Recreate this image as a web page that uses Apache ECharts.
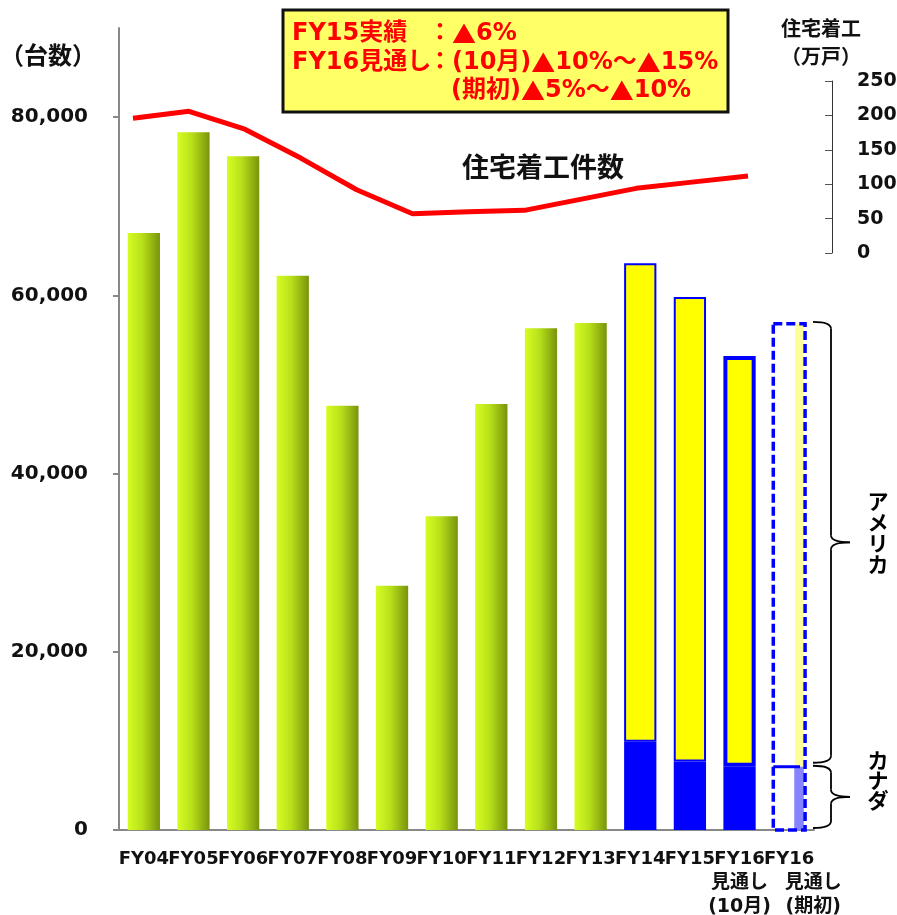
<!DOCTYPE html>
<html><head><meta charset="utf-8">
<script src="https://cdn.jsdelivr.net/npm/echarts@6/dist/echarts.min.js"></script>
<style>html,body{margin:0;padding:0;background:#fff}#c{width:897px;height:915px}</style>
</head><body><div id="c"></div>
<script>
// ---- data ----
const categories = ['FY04','FY05','FY06','FY07','FY08','FY09','FY10','FY11','FY12','FY13','FY14','FY15','FY16\n見通し\n(10月)','FY16\n見通し\n(期初)'];
const totalUnits   = [67000, 78300, 75600, 62200, 47600, 27400, 35200, 47800, 56300, 56900, null, null, null, null];
const canadaUnits  = [null, null, null, null, null, null, null, null, null, null, 9900, 7700, 7100, null];
const usaUnits     = [null, null, null, null, null, null, null, null, null, null, 53700, 52100, 46100, null];
const initialForecast = { index: 13, canada: 7100, usa: 49700 };
const startsYears  = ['FY04','FY05','FY06','FY07','FY08','FY09','FY10','FY11','FY12','FY13','FY14','FY15'];
const housingStarts = [196, 206, 180, 138, 92, 57, 60, 62, 78, 94, 103, 112];
const leftTicks  = [0, 20000, 40000, 60000, 80000];

const FONT = '"DejaVu Sans", "Noto Sans CJK JP", sans-serif';
const CJK = '"Noto Sans CJK JP", "DejaVu Sans", sans-serif';

const chart = echarts.init(document.getElementById('c'), null, {renderer: 'canvas'});

const greenGrad = new echarts.graphic.LinearGradient(0, 0, 1, 0, [
  {offset: 0, color: '#d6fd22'}, {offset: 0.45, color: '#b8e01a'}, {offset: 1, color: '#78940c'}
]);

function styled(arr, fn) { return arr.map((v, i) => v == null ? null : Object.assign({value: v}, fn(i))); }

const option = {
  animation: false,
  grid: [
    {left: 119, right: 83, top: 28, bottom: 85, outerBoundsMode: 'none', containLabel: false},
    {left: 133, width: 615, top: 81, height: 172, outerBoundsMode: 'none', containLabel: false}
  ],
  xAxis: [
    {type: 'category', gridIndex: 0, data: categories,
     axisLine: {lineStyle: {color: '#888', width: 2}},
     axisTick: {length: 7, lineStyle: {color: '#888', width: 2}},
     axisLabel: {interval: 0, color: '#111', fontFamily: FONT, fontWeight: 'bold', fontSize: 18, lineHeight: 24, margin: 17,
       formatter: function (v, i) {
         const parts = v.split('\n');
         if (parts.length === 1) return v;
         const tag = i === categories.length - 1 ? 's' : 'j';
         return parts[0] + '\n{' + tag + '|' + parts[1] + '}\n{' + tag + '|' + parts[2] + '}';
       },
       rich: {
         j: {fontFamily: FONT, fontWeight: 'bold', fontSize: 19, lineHeight: 24, color: '#111'},
         s: {fontFamily: FONT, fontWeight: 'bold', fontSize: 19, lineHeight: 24, color: '#111', padding: [0, 0, 0, 48]}
       }}},
    {type: 'category', gridIndex: 1, data: startsYears, boundaryGap: false, show: false}
  ],
  yAxis: [
    {type: 'value', gridIndex: 0, min: 0, max: 90000, interval: 20000,
     axisLine: {show: true, lineStyle: {color: '#888', width: 2}},
     axisTick: {show: true, length: 6, lineStyle: {color: '#888', width: 2}, customValues: leftTicks},
     splitLine: {show: false},
     axisLabel: {customValues: leftTicks, color: '#111', fontFamily: FONT, fontWeight: 'bold', fontSize: 20, margin: 31}},
    {type: 'value', gridIndex: 1, position: 'right', offset: 84, min: 0, max: 250, interval: 50,
     axisLine: {show: true, lineStyle: {color: '#333', width: 1}},
     axisTick: {show: true, inside: true, length: 7, lineStyle: {color: '#555'}},
     splitLine: {show: false},
     axisLabel: {color: '#111', fontFamily: FONT, fontWeight: 'bold', fontSize: 19, margin: 25}}
  ],
  series: [
    {type: 'bar', name: '台数', stack: 'a', barWidth: '65%', data: totalUnits,
     itemStyle: {color: greenGrad}},
    {type: 'bar', name: 'カナダ', stack: 'a', barWidth: '65%',
     data: styled(canadaUnits, i => ({itemStyle: {borderWidth: i === 12 ? 4 : 2}})),
     itemStyle: {color: '#0000ff', borderColor: '#0000ff', borderWidth: 2}},
    {type: 'bar', name: 'アメリカ', stack: 'a', barWidth: '65%',
     data: styled(usaUnits, i => ({itemStyle: {borderWidth: i === 12 ? 4 : 2}})),
     itemStyle: {color: '#ffff00', borderColor: '#0000ff', borderWidth: 2}},
    {type: 'custom', xAxisIndex: 0, yAxisIndex: 0, z: 3,
     data: [[initialForecast.index, initialForecast.canada, initialForecast.canada + initialForecast.usa]],
     renderItem: function (params, api) {
       const cat = api.value(0);
       const p0 = api.coord([cat, 0]);
       const pc = api.coord([cat, api.value(1)]);
       const pt = api.coord([cat, api.value(2)]);
       const w = api.size([1, 0])[0] * 0.64;
       const cx = p0[0];
       const left = cx - w / 2;
       return {type: 'group', children: [
         {type: 'rect', shape: {x: cx + w * 0.18, y: pt[1], width: w * 0.26, height: pc[1] - pt[1]},
          style: {fill: '#ffff99'}},
         {type: 'rect', shape: {x: cx + w * 0.16, y: pc[1], width: w * 0.3, height: p0[1] - pc[1]},
          style: {fill: '#8484ff'}},
         {type: 'line', shape: {x1: left, y1: pc[1], x2: cx + w * 0.34, y2: pc[1]},
          style: {stroke: '#0000ff', lineWidth: 3}},
         {type: 'rect', shape: {x: left, y: pt[1], width: w, height: p0[1] - pt[1]},
          style: {fill: null, stroke: '#0000ff', lineWidth: 3.5, lineDash: [9, 4]}}
       ]};
     }},
    {type: 'line', name: '住宅着工件数', xAxisIndex: 1, yAxisIndex: 1, data: housingStarts,
     symbol: 'none', z: 5, lineStyle: {color: '#ff0000', width: 5}}
  ]
};
chart.setOption(option);

// annotations (braces, box, titles)
const idx = initialForecast.index;
const yTop = chart.convertToPixel({gridIndex: 0}, [idx, initialForecast.canada + initialForecast.usa])[1];
const yCan = chart.convertToPixel({gridIndex: 0}, [idx, initialForecast.canada])[1];
const yZero = chart.convertToPixel({gridIndex: 0}, [idx, 0])[1];
const xb0 = 813, xbv = 831, xbt = 850;
const braceStyle = {fill: null, stroke: '#000', lineWidth: 1.8};
function brace(y1, y2) {
  const m = (y1 + y2) / 2, r = 7;
  return [
    {type: 'bezierCurve', shape: {x1: xb0, y1: y1, cpx1: xbv, cpy1: y1, x2: xbv, y2: y1 + r}, style: braceStyle},
    {type: 'line', shape: {x1: xbv, y1: y1 + r, x2: xbv, y2: m - r}, style: braceStyle},
    {type: 'bezierCurve', shape: {x1: xbv, y1: m - r, cpx1: xbv, cpy1: m, x2: xbt, y2: m}, style: braceStyle},
    {type: 'bezierCurve', shape: {x1: xbt, y1: m, cpx1: xbv, cpy1: m, x2: xbv, y2: m + r}, style: braceStyle},
    {type: 'line', shape: {x1: xbv, y1: m + r, x2: xbv, y2: y2 - r}, style: braceStyle},
    {type: 'bezierCurve', shape: {x1: xbv, y1: y2 - r, cpx1: xbv, cpy1: y2, x2: xb0, y2: y2}, style: braceStyle}
  ];
}
const redRich = {t: {font: 'bold 24px ' + CJK, fill: '#ff0000'}};
function red(text, x, y) {
  return {type: 'text', z: 11, x: x, y: y, style: {text: text.replace(/▲/g, '{t|▲}'), rich: redRich,
    fill: '#ff0000', font: 'bold 24px ' + FONT, textVerticalAlign: 'middle'}};
}
chart.setOption({graphic: [].concat(
  brace(yTop - 2, yCan - 4),
  brace(yCan - 1, yZero - 2),
  [
  {type: 'text', x: 878, y: (yTop + yCan) / 2 - 13, style: {text: 'ア\nメ\nリ\nカ', font: 'bold 21px ' + CJK, lineHeight: 21, fill: '#000', textAlign: 'center', textVerticalAlign: 'middle'}},
  {type: 'text', x: 878, y: (yCan + yZero) / 2 - 18, style: {text: 'カ\nナ\nダ', font: 'bold 21px ' + CJK, lineHeight: 20, fill: '#000', textAlign: 'center', textVerticalAlign: 'middle'}},
  {type: 'rect', z: 10, shape: {x: 283, y: 10, width: 445, height: 102}, style: {fill: '#ffff66', stroke: '#111', lineWidth: 3}},
  red('FY15実績', 292, 34),
  red('：▲6%', 428, 34),
  red('FY16見通し', 292, 63),
  red('：(10月)▲10%～▲15%', 428, 63),
  red('(期初)▲5%～▲10%', 451, 91),
  {type: 'text', x: 462, y: 167, style: {text: '住宅着工件数', font: 'bold 27px ' + CJK, fill: '#111', textVerticalAlign: 'middle'}},
  {type: 'text', x: 0, y: 55, style: {text: '（台数）', font: 'bold 24px ' + CJK, fill: '#111', textVerticalAlign: 'middle'}},
  {type: 'text', x: 821, y: 28, style: {text: '住宅着工', font: 'bold 20px ' + CJK, fill: '#111', textAlign: 'center', textVerticalAlign: 'middle'}},
  {type: 'text', x: 821, y: 56, style: {text: '（万戸）', font: 'bold 20px ' + CJK, fill: '#111', textAlign: 'center', textVerticalAlign: 'middle'}}
  ]
)});
</script>
</body></html>
